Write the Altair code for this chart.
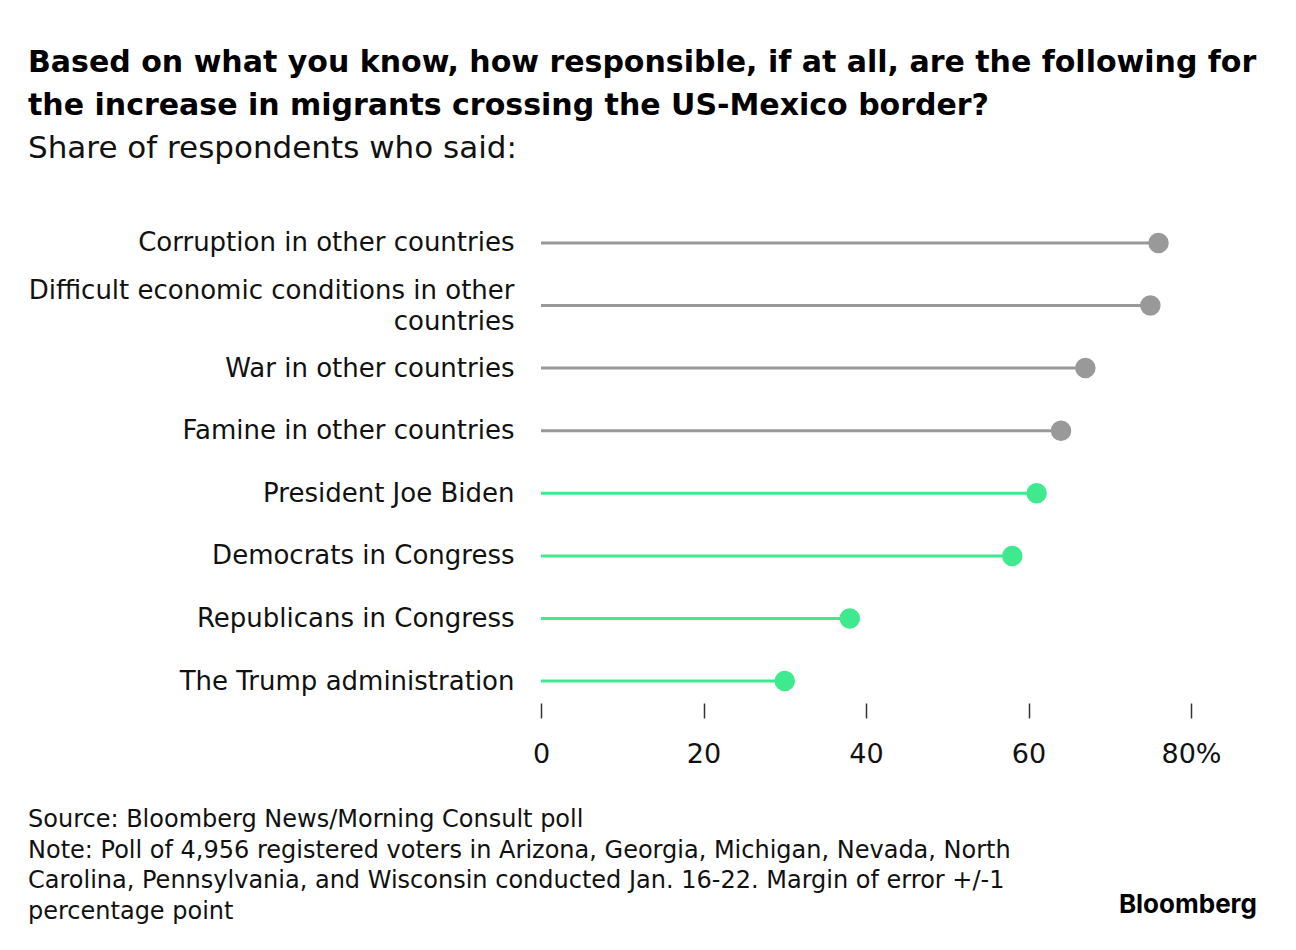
import altair as alt
import pandas as pd

categories = [
    "Corruption in other countries",
    "Difficult economic conditions in other countries",
    "War in other countries",
    "Famine in other countries",
    "President Joe Biden",
    "Democrats in Congress",
    "Republicans in Congress",
    "The Trump administration",
]
values = [76, 75, 67, 64, 61, 58, 38, 30]
groups = ["Other", "Other", "Other", "Other", "Political", "Political", "Political", "Political"]
x_ticks = [0, 20, 40, 60, 80]

title_lines = [
    "Based on what you know, how responsible, if at all, are the following for",
    "the increase in migrants crossing the US-Mexico border?",
]
subtitle = "Share of respondents who said:"
footer = (
    "Source: Bloomberg News/Morning Consult poll\n"
    "Note: Poll of 4,956 registered voters in Arizona, Georgia, Michigan, Nevada, North\n"
    "Carolina, Pennsylvania, and Wisconsin conducted Jan. 16-22. Margin of error +/-1\n"
    "percentage point"
)
wrapped = "Difficult economic conditions in other countries"

df = pd.DataFrame({"category": categories, "value": values, "group": groups})
df["zero"] = 0

FONT = "DejaVu Sans"
color = alt.Color("group:N", scale=alt.Scale(domain=["Other", "Political"], range=["#999999", "#3fe98d"]), legend=None)

y = alt.Y(
    "category:N",
    sort=categories,
    scale=alt.Scale(type="point", padding=0.35),
    axis=alt.Axis(
        title=None,
        domain=False,
        ticks=False,
        labelFontSize=26,
        labelColor="#111111",
        labelFont=FONT,
        labelPadding=27,
        labelLimit=600,
        labelLineHeight=31,
        labelOffset=alt.condition(f"datum.value == '{wrapped}'", alt.value(-15.5), alt.value(0)),
        labelExpr=f"datum.value == '{wrapped}' ? ['Difficult economic conditions in other', 'countries'] : datum.value",
    ),
)
x = alt.X(
    "value:Q",
    scale=alt.Scale(domain=[0, 80], nice=False),
    axis=alt.Axis(
        title=None,
        values=x_ticks,
        domain=False,
        grid=False,
        ticks=True,
        tickSize=15,
        tickColor="#333333",
        tickWidth=1.5,
        labelFontSize=27,
        labelFont=FONT,
        labelColor="#111111",
        labelPadding=23,
        labelFlush=False,
        labelExpr="datum.value == 80 ? '80%' : datum.label",
    ),
)

base = alt.Chart(df)
rules = base.mark_rule(strokeWidth=3).encode(x=x, x2="zero:Q", y=y, color=color)
points = base.mark_circle(size=420, opacity=1).encode(x=x, y=y, color=color)

footer_df = pd.DataFrame({"t": [footer]})
foot = alt.Chart(footer_df).mark_text(
    align="left", baseline="top", fontSize=24, font=FONT, color="#111111", lineBreak="\n", lineHeight=30.5
).encode(text="t:N", x=alt.value(-513), y=alt.value(587))

logo_df = pd.DataFrame({"t": ["Bloomberg"]})
logo = alt.Chart(logo_df).mark_text(
    align="right", baseline="middle", fontSize=26, font="Inter", fontWeight="bold", color="#000000"
).encode(text="t:N", x=alt.value(716), y=alt.value(684))

chart = (
    alt.layer(rules, points, foot, logo)
    .properties(
        width=650,
        height=482,
        padding={"left": 20, "top": 40, "right": 20, "bottom": 20},
        title=alt.TitleParams(
            text=title_lines,
            subtitle=subtitle,
            anchor="start",
            frame="bounds",
            font=FONT,
            fontSize=30,
            fontWeight="bold",
            color="#000000",
            lineHeight=43,
            subtitleFont=FONT,
            subtitleFontSize=31,
            subtitleColor="#111111",
            subtitlePadding=13,
            offset=57,
        ),
    )
    .configure_view(stroke=None)
)

chart.save("out.html", embed_options={"renderer": "svg", "actions": False})
